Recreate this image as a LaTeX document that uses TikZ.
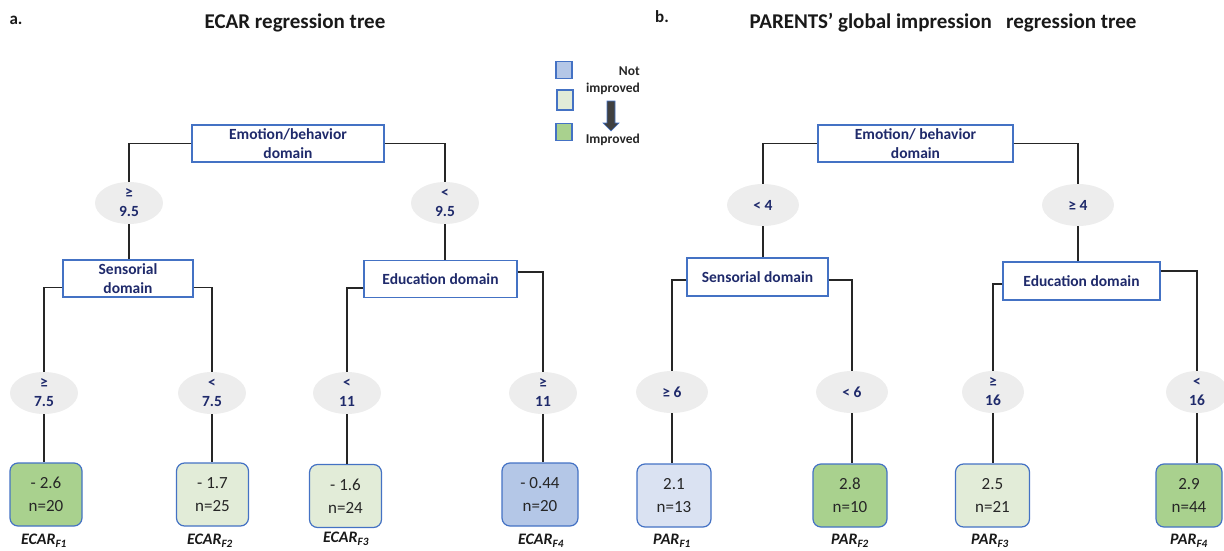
\documentclass[tikz,border=0pt]{standalone}
\usepackage{fontspec}
\setmainfont{Carlito}
\usetikzlibrary{shapes.geometric}
\definecolor{navy}{HTML}{1F2A6B}
\definecolor{boxblue}{HTML}{4472C4}
\definecolor{ellgray}{HTML}{EDEDED}
\definecolor{gDark}{HTML}{A9D18E}
\definecolor{gLight}{HTML}{E2ECD8}
\definecolor{bDark}{HTML}{B4C7E7}
\definecolor{bLight}{HTML}{DAE2F2}
\definecolor{arrgray}{HTML}{404040}
\begin{document}
\begin{tikzpicture}[x=1pt,y=-1pt,
  splitbox/.style={draw=boxblue,line width=1.2pt,fill=white,text=navy,align=center,
    inner sep=0pt,font=\fontsize{15.5}{19}\selectfont\bfseries},
  cond/.style={ellipse,fill=ellgray,text=navy,align=center,inner sep=0pt,
    minimum width=68pt,minimum height=42pt,font=\fontsize{15.5}{19}\selectfont\bfseries},
  leafbox/.style={draw=boxblue,line width=1.2pt,rounded corners=8pt,align=center,
    text=black!85,minimum height=63pt,inner sep=0pt,font=\fontsize{17}{23}\selectfont},
  leaflab/.style={font=\fontsize{16}{18}\selectfont\bfseries\itshape,text=black!90},
  title/.style={font=\fontsize{21}{24}\selectfont\bfseries,text=black!90},
  panel/.style={font=\fontsize{17}{20}\selectfont\bfseries,text=black!90},
  legtext/.style={font=\fontsize{13.5}{15}\selectfont\bfseries,text=black!85,inner sep=0pt},
  legsq/.style={draw=boxblue,line width=1.2pt,minimum width=16pt,minimum height=17pt,inner sep=0pt},
  conn/.style={line width=1.8pt,black!85}]
\useasboundingbox (0,0) rectangle (1224,551);

% titles
\node[panel] (pa) at (16,20) {a.};
\node[title] (ta) at (295,23) {ECAR regression tree};
\node[panel] (pb) at (662,17) {b.};
\node[title] (tb) at (943,23) {PARENTS’ global impression \ \ regression tree};

% legend
\node[legsq,fill=bDark] (l1) at (564,70) {};
\node[legsq,fill=gLight,minimum height=20pt] (l2) at (565,100) {};
\node[legsq,fill=gDark] (l3) at (564,132) {};
\node[legtext,anchor=east] (lnot) at (640,71) {Not};
\node[legtext,anchor=east] (limp) at (640,89) {improved};
\node[legtext,anchor=east] (lImp) at (640,140) {Improved};
\draw[draw=boxblue,line width=0.6pt,fill=arrgray] (607,101) -- (615,101) -- (615,123) -- (619,123) -- (611,131) -- (603,123) -- (607,123) -- cycle;

% ---------- tree a ----------
\node[splitbox,minimum width=192pt,minimum height=37pt] (ra) at (288,143.5) {Emotion/behavior\\domain};
\node[cond] (ca1) at (129,203) {≥\\9.5};
\node[cond] (ca2) at (445,203) {<\\9.5};
\node[splitbox,minimum width=130pt,minimum height=37pt] (sa) at (128,278.5) {Sensorial\\domain};
\node[splitbox,minimum width=153pt,minimum height=37pt] (ea) at (440.5,279) {Education domain};
\node[cond] (ca3) at (44,393) {≥\\7.5};
\node[cond] (ca4) at (212,393) {<\\7.5};
\node[cond] (ca5) at (347,393) {<\\11};
\node[cond] (ca6) at (543,393) {≥\\11};
\node[leafbox,fill=gDark,minimum width=72pt] (fa1) at (46,494.5) {- 2.6\\n=20};
\node[leafbox,fill=gLight,minimum width=72pt] (fa2) at (212.5,494.5) {- 1.7\\n=25};
\node[leafbox,fill=gLight,minimum width=72pt] (fa3) at (345.5,496) {- 1.6\\n=24};
\node[leafbox,fill=bDark,minimum width=76pt] (fa4) at (540,494.5) {- 0.44\\n=20};
\node[leaflab] (la1) at (44,541) {ECAR\textsubscript{F1}};
\node[leaflab] (la2) at (210,541) {ECAR\textsubscript{F2}};
\node[leaflab] (la3) at (346,539) {ECAR\textsubscript{F3}};
\node[leaflab] (la4) at (541,541) {ECAR\textsubscript{F4}};

\draw[conn] (ra.west) -| (ca1.north);
\draw[conn] (ra.east) -| (ca2.north);
\draw[conn] (ca1.south) -- (ca1.south |- sa.north);
\draw[conn] (ca2.south) -- (ca2.south |- ea.north);
\draw[conn] ([yshift=-9pt]sa.west) -| (ca3.north);
\draw[conn] ([yshift=-9pt]sa.east) -| (ca4.north);
\draw[conn] ([yshift=-9pt]ea.west) -| (ca5.north);
\draw[conn] ([yshift=7pt]ea.east) -| (ca6.north);
\draw[conn] (ca3.south) -- (ca3.south |- fa1.north);
\draw[conn] (ca4.south) -- (ca4.south |- fa2.north);
\draw[conn] (ca5.south) -- (ca5.south |- fa3.north);
\draw[conn] (ca6.south) -- (ca6.south |- fa4.north);

% ---------- tree b ----------
\node[splitbox,minimum width=195pt,minimum height=37pt] (rb) at (915.5,143.5) {Emotion/ behavior\\domain};
\node[cond,minimum width=72pt] (cb1) at (763,205) {< 4};
\node[cond,minimum width=72pt] (cb2) at (1078,205) {≥ 4};
\node[splitbox,minimum width=141pt,minimum height=38pt] (sb) at (757.5,277) {Sensorial domain};
\node[splitbox,minimum width=157pt,minimum height=38pt] (eb) at (1081.5,281) {Education domain};
\node[cond,minimum width=72pt] (cb3) at (672,392) {≥ 6};
\node[cond,minimum width=72pt] (cb4) at (852,392) {< 6};
\node[cond,minimum width=62pt] (cb5) at (993,392) {≥\\16};
\node[cond,minimum width=62pt] (cb6) at (1197,392) {<\\16};
\node[leafbox,fill=bLight,minimum width=74pt] (fb1) at (674,495.5) {2.1\\n=13};
\node[leafbox,fill=gDark,minimum width=74pt] (fb2) at (850,495.5) {2.8\\n=10};
\node[leafbox,fill=gLight,minimum width=74pt] (fb3) at (992.5,495.5) {2.5\\n=21};
\node[leafbox,fill=gDark,minimum width=66pt] (fb4) at (1189,495.5) {2.9\\n=44};
\node[leaflab] (lb1) at (672,541) {PAR\textsubscript{F1}};
\node[leaflab] (lb2) at (850,541) {PAR\textsubscript{F2}};
\node[leaflab] (lb3) at (990,541) {PAR\textsubscript{F3}};
\node[leaflab] (lb4) at (1189,541) {PAR\textsubscript{F4}};

\draw[conn] (rb.west) -| (cb1.north);
\draw[conn] (rb.east) -| (cb2.north);
\draw[conn] (cb1.south) -- (cb1.south |- sb.north);
\draw[conn] (cb2.south) -- (cb2.south |- eb.north);
\draw[conn] ([yshift=-3pt]sb.west) -| (cb3.north);
\draw[conn] ([yshift=-3pt]sb.east) -| (cb4.north);
\draw[conn] ([yshift=-3pt]eb.west) -| (cb5.north);
\draw[conn] ([yshift=10pt]eb.east) -| (cb6.north);
\draw[conn] (cb3.south) -- (cb3.south |- fb1.north);
\draw[conn] (cb4.south) -- (cb4.south |- fb2.north);
\draw[conn] (cb5.south) -- (cb5.south |- fb3.north);
\draw[conn] (cb6.south) -- (cb6.south |- fb4.north);
\end{tikzpicture}
\end{document}
